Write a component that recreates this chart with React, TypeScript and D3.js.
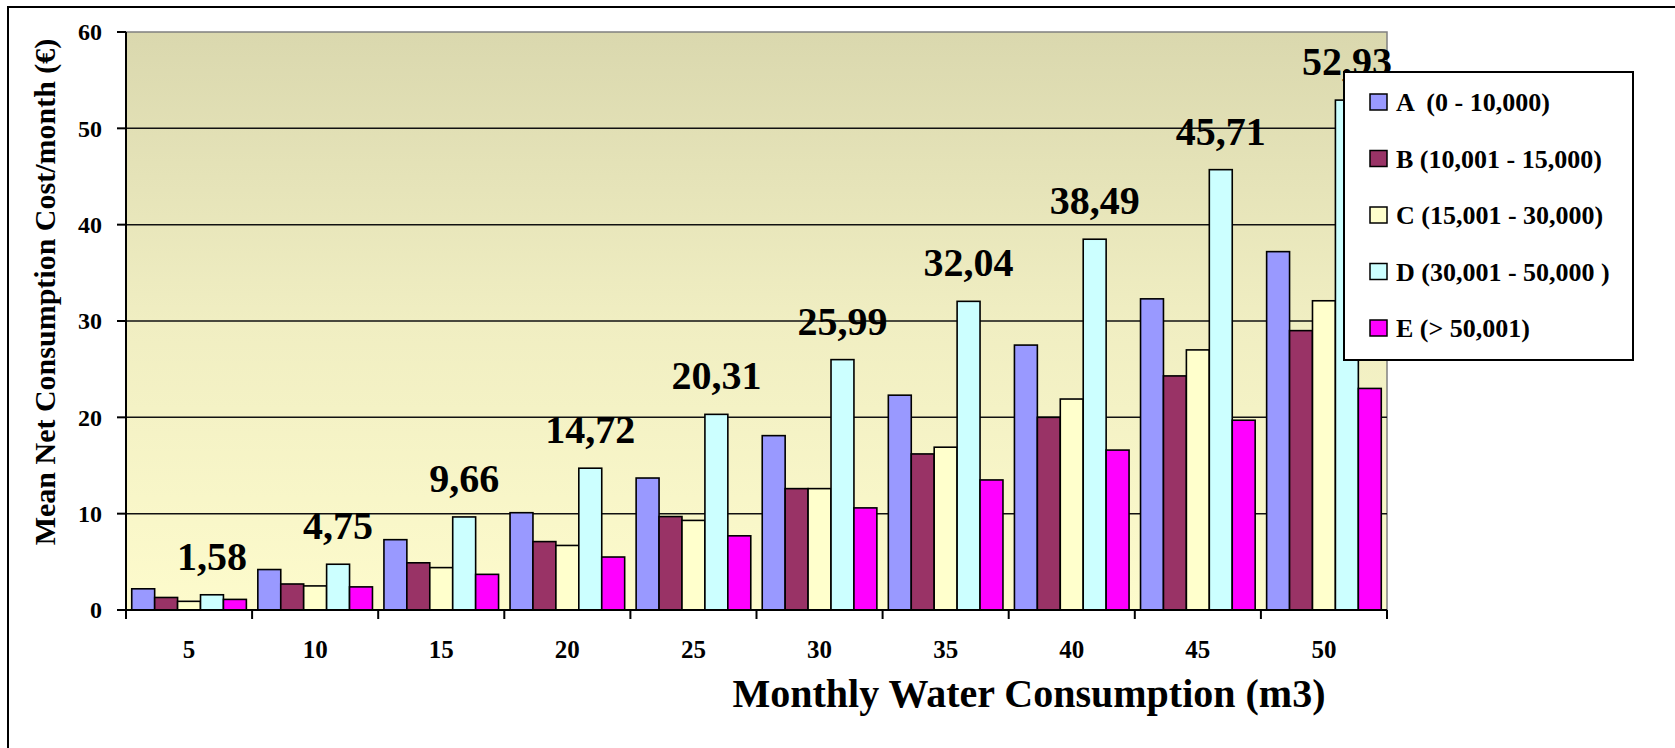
import React from "react";
import * as d3 from "d3";

const categories = ["5", "10", "15", "20", "25", "30", "35", "40", "45", "50"];
const seriesNames = ["A  (0 - 10,000)", "B (10,001 - 15,000)", "C (15,001 - 30,000)", "D (30,001 - 50,000 )", "E (> 50,001)"];
const seriesA = [2.2, 4.2, 7.3, 10.1, 13.7, 18.1, 22.3, 27.5, 32.3, 37.2];
const seriesB = [1.3, 2.7, 4.9, 7.1, 9.7, 12.6, 16.2, 20.0, 24.3, 29.0];
const seriesC = [0.9, 2.5, 4.4, 6.7, 9.3, 12.6, 16.9, 21.9, 27.0, 32.1];
const seriesD = [1.58, 4.75, 9.66, 14.72, 20.31, 25.99, 32.04, 38.49, 45.71, 52.93];
const seriesE = [1.1, 2.4, 3.7, 5.5, 7.7, 10.6, 13.5, 16.6, 19.7, 23.0];
const seriesColors = ["#9999FF", "#993366", "#FFFFCC", "#CCFFFF", "#FF00FF"];
const yTicks = [0, 10, 20, 30, 40, 50, 60];
const labelledSeries = 3; // D series carries data labels

const W = 1675;
const H = 748;
const FONT = "'Liberation Serif', 'Times New Roman', serif";

export default function App() {
  const series = [seriesA, seriesB, seriesC, seriesD, seriesE];
  const left = 126, right = 1387, top = 32, bottom = 610;
  const x0 = d3.scaleBand<string>().domain(categories).range([left, right]).padding(0);
  const x1 = d3.scaleBand<number>().domain(d3.range(series.length)).range([0, x0.bandwidth()]).paddingInner(0).paddingOuter(0.25);
  const y = d3.scaleLinear().domain([0, 60]).range([bottom, top]);
  const fmt = (v: number) => d3.format(".2f")(v).replace(".", ",");

  const legendX = 1344, legendY = 72, legendW = 289, legendH = 288;
  const legendItemY = d3.scalePoint<number>().domain(d3.range(series.length)).range([102, 328]);

  return (
    <svg width={W} height={H} style={{ position: "absolute", left: 0, top: 0, background: "#fff" }} fontFamily={FONT}>
      <defs>
        <linearGradient id="plotbg" x1="0" y1="0" x2="0" y2="1">
          <stop offset="0%" stopColor="#DAD8AE" />
          <stop offset="50%" stopColor="#F0EEC2" />
          <stop offset="100%" stopColor="#FDFBCC" />
        </linearGradient>
      </defs>
      {/* outer frame */}
      <rect x={8} y={7} width={W} height={H} fill="none" stroke="#000" strokeWidth={2} />
      {/* plot background */}
      <rect x={left} y={top} width={right - left} height={bottom - top} fill="url(#plotbg)" stroke="#808080" strokeWidth={1.5} />
      {/* gridlines */}
      {yTicks.filter((t) => t > 0 && t < 60).map((t) => (
        <line key={"g" + t} x1={left} x2={right} y1={y(t)} y2={y(t)} stroke="#111" strokeWidth={1.5} />
      ))}
      {/* bars */}
      {categories.map((c, i) => (
        <g key={c} transform={`translate(${x0(c)},0)`}>
          {series.map((s, j) => (
            <rect key={j} x={x1(j)} y={y(s[i])} width={x1.bandwidth()} height={y(0) - y(s[i])} fill={seriesColors[j]} stroke="#000" strokeWidth={1.6} />
          ))}
        </g>
      ))}
      {/* axes */}
      <line x1={left} x2={left} y1={top} y2={bottom} stroke="#000" strokeWidth={2} />
      <line x1={left - 9} x2={right} y1={bottom} y2={bottom} stroke="#000" strokeWidth={2} />
      {yTicks.map((t) => (
        <g key={"y" + t}>
          <line x1={left - 9} x2={left} y1={y(t)} y2={y(t)} stroke="#000" strokeWidth={2} />
          <text x={102} y={y(t)} dy="0.35em" textAnchor="end" fontSize={24} fontWeight="bold">{t}</text>
        </g>
      ))}
      {[...categories.map((c) => x0(c) as number), right].map((xv, i) => (
        <line key={"xt" + i} x1={xv} x2={xv} y1={bottom} y2={bottom + 9} stroke="#000" strokeWidth={2} />
      ))}
      {categories.map((c) => (
        <text key={"xl" + c} x={(x0(c) as number) + x0.bandwidth() / 2} y={658} textAnchor="middle" fontSize={25} fontWeight="bold">{c}</text>
      ))}
      {/* data labels */}
      {categories.map((c, i) => {
        const v = series[labelledSeries][i];
        return (
          <text key={"dl" + c} x={(x0(c) as number) + (x1(labelledSeries) as number) + x1.bandwidth() / 2} y={y(v) - 25} textAnchor="middle" fontSize={40} fontWeight="bold">{fmt(v)}</text>
        );
      })}
      {/* axis titles */}
      <text x={1029} y={707} textAnchor="middle" fontSize={40} fontWeight="bold">Monthly Water Consumption (m3)</text>
      <text transform={`translate(55,292) rotate(-90)`} textAnchor="middle" fontSize={30} fontWeight="bold">Mean Net Consumption Cost/month (€)</text>
      {/* legend */}
      <rect x={legendX} y={legendY} width={legendW} height={legendH} fill="#fff" stroke="#000" strokeWidth={2} />
      {seriesNames.map((n, j) => (
        <g key={"lg" + j}>
          <rect x={1370} y={(legendItemY(j) as number) - 8} width={17} height={16} fill={seriesColors[j]} stroke="#000" strokeWidth={1.5} />
          <text x={1396} y={legendItemY(j)} dy="0.35em" fontSize={26} fontWeight="bold" style={{ whiteSpace: "pre" }}>{n}</text>
        </g>
      ))}
    </svg>
  );
}
